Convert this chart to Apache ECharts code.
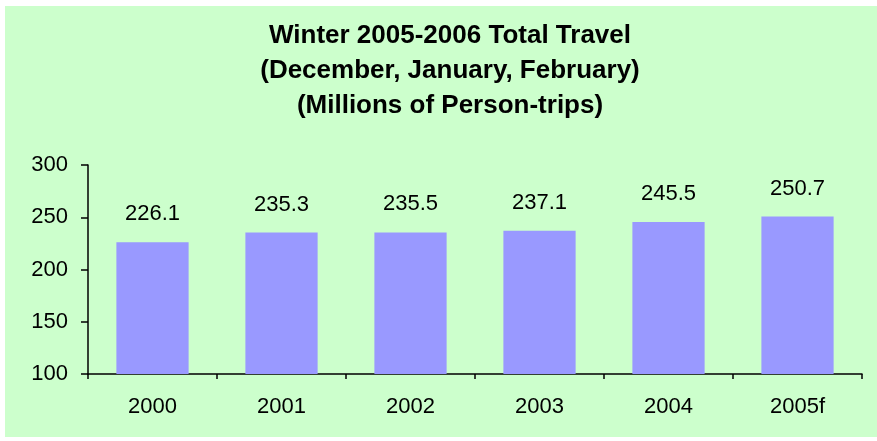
<!DOCTYPE html>
<html>
<head>
<meta charset="utf-8">
<script src="https://cdn.jsdelivr.net/npm/echarts@6/dist/echarts.min.js"></script>
<style>
html,body{margin:0;padding:0;background:#fff;}
#c{width:877px;height:441px;}
</style>
</head>
<body>
<div id="c"></div>
<script>
const categories = ['2000', '2001', '2002', '2003', '2004', '2005f'];
const values = [226.1, 235.3, 235.5, 237.1, 245.5, 250.7];
const titleLines = ['Winter 2005-2006 Total Travel', '(December, January, February)', '(Millions of Person-trips)'];

const chart = echarts.init(document.getElementById('c'), null, {renderer: 'canvas'});
const font = '"Liberation Sans", Arial, sans-serif';
chart.setOption({
  backgroundColor: '#ffffff',
  animation: false,
  graphic: [{
    type: 'rect', z: -10, silent: true,
    shape: {x: 5, y: 6, width: 872, height: 431},
    style: {fill: '#ccffcc'}
  }],
  title: {
    text: titleLines.join('\n'),
    left: 445, top: 13, textAlign: 'center',
    textStyle: {fontFamily: font, fontWeight: 'bold', fontSize: 26, lineHeight: 35, color: '#000'}
  },
  grid: {left: 88, right: 15, top: 165, bottom: 67, containLabel: false},
  xAxis: {
    type: 'category', data: categories,
    axisLine: {lineStyle: {color: '#000', width: 1.5}},
    axisTick: {show: true, alignWithLabel: false, length: 5, inside: false, lineStyle: {color: '#000', width: 1.5}},
    axisLabel: {fontFamily: font, fontSize: 22, color: '#000', margin: 22}
  },
  yAxis: {
    type: 'value', min: 100, max: 300, interval: 50,
    axisLine: {show: true, lineStyle: {color: '#000', width: 1.5}},
    axisTick: {show: true, length: 7, lineStyle: {color: '#000', width: 1.5}},
    splitLine: {show: false},
    axisLabel: {fontFamily: font, fontSize: 22, color: '#000', margin: 20}
  },
  series: [{
    type: 'bar', data: values, barWidth: '56%',
    itemStyle: {color: '#9999ff'},
    label: {show: true, position: 'top', distance: 17, fontFamily: font, fontSize: 22, color: '#000',
      formatter: p => p.value.toFixed(1)}
  }]
});
</script>
</body>
</html>
